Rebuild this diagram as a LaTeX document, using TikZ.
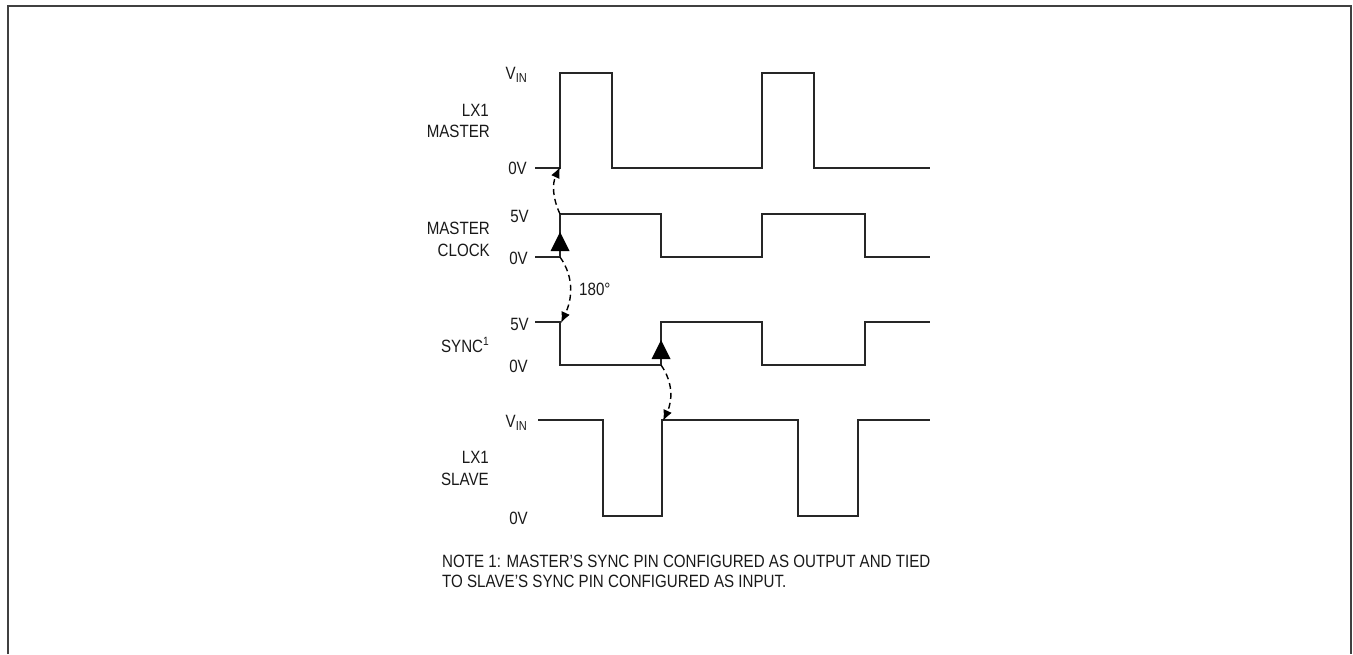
\documentclass[tikz,border=0pt]{standalone}
\usepackage{fontspec}
\setmainfont{Liberation Sans}[FakeStretch=0.85]
\usetikzlibrary{arrows.meta}
\newcommand{\vin}{V\raisebox{-0.35ex}{\fontsize{13}{13}\selectfont IN}}
\begin{document}
\begin{tikzpicture}[x=1pt,y=-1pt,
  wave/.style={line width=1.5pt,draw=black!85,line join=miter},
  lbl/.style={inner sep=0pt,font=\fontsize{17.8}{21}\selectfont,text=black!90},
  rlbl/.style={lbl,anchor=east,align=right},
  dash arrow/.style={line width=1.4pt,dash pattern=on 6pt off 4pt,-{Latex[length=11pt,width=9pt]}},
  tri/.style={fill=black}]
\useasboundingbox (0,0) rectangle (1353,654);
\draw[line width=2pt,draw=black!75] (8,654) -- (8,6) -- (1351,6) -- (1351,654);

% LX1 MASTER
\coordinate (m0) at (535,168);
\coordinate (mr1) at (560,168);
\coordinate (mt1) at (560,73);
\draw[wave] (m0) -- (mr1) -- (mt1) -- (612,73) -- (612,168) -- (762,168) -- (762,73) -- (814,73) -- (814,168) -- (930,168);
\node[rlbl] (mvin) at (527,75) {\vin};
\node[rlbl] (mlx) at (489,110) {LX1};
\node[rlbl] (mname) at (490,131) {MASTER};
\node[rlbl] (m0v) at (527,168) {0V};

% MASTER CLOCK
\coordinate (c0) at (535,257);
\coordinate (cr1) at (560,257);
\coordinate (ct1) at (560,214);
\draw[wave] (c0) -- (cr1) -- (ct1) -- (661,214) -- (661,257) -- (762,257) -- (762,214) -- (865,214) -- (865,257) -- (930,257);
\node[rlbl] (c5v) at (529,216) {5V};
\node[rlbl] (cname) at (490,228) {MASTER};
\node[rlbl] (cname2) at (490,250) {CLOCK};
\node[rlbl] (c0v) at (528,258) {0V};
\fill[tri] (550.5,251) -- (569.5,251) -- (560,232) -- cycle;

% SYNC
\coordinate (s0) at (535,322);
\coordinate (st1) at (560,322);
\coordinate (sb2) at (661,365);
\draw[wave] (s0) -- (st1) -- (560,365) -- (sb2) -- (661,322) -- (762,322) -- (762,365) -- (865,365) -- (865,322) -- (930,322);
\node[rlbl] (s5v) at (529,324) {5V};
\node[rlbl] (sname) at (489,345) {SYNC\raisebox{0.75ex}{\fontsize{12}{12}\selectfont 1}};
\node[rlbl] (s0v) at (528,366) {0V};
\fill[tri] (651.5,359) -- (670.5,359) -- (661,340) -- cycle;

% LX1 SLAVE
\coordinate (l0) at (538,420);
\coordinate (lr1) at (662,420);
\draw[wave] (l0) -- (603,420) -- (603,516) -- (662,516) -- (lr1) -- (798,420) -- (798,516) -- (858,516) -- (858,420) -- (930,420);
\node[rlbl] (lvin) at (527,423) {\vin};
\node[rlbl] (llx) at (489,457) {LX1};
\node[rlbl] (lname) at (489,479) {SLAVE};
\node[rlbl] (l0v) at (528,518) {0V};

% dashed arrows
\draw[dash arrow] (ct1) to[out=115,in=245] ([yshift=1pt]mr1);
\draw[dash arrow] (cr1) to[out=-55,in=65] ([xshift=1pt,yshift=-1pt]st1);
\draw[dash arrow] (sb2) to[out=-55,in=65] ([xshift=1pt,yshift=-1pt]lr1);
\node[lbl,anchor=west] (deg) at (579,289) {180°};

% note
\node[lbl,anchor=north west,align=left] (note) at (442,555) {NOTE 1: MASTER’S SYNC PIN CONFIGURED AS OUTPUT AND TIED\\[-1pt]TO SLAVE’S SYNC PIN CONFIGURED AS INPUT.};
\end{tikzpicture}
\end{document}
